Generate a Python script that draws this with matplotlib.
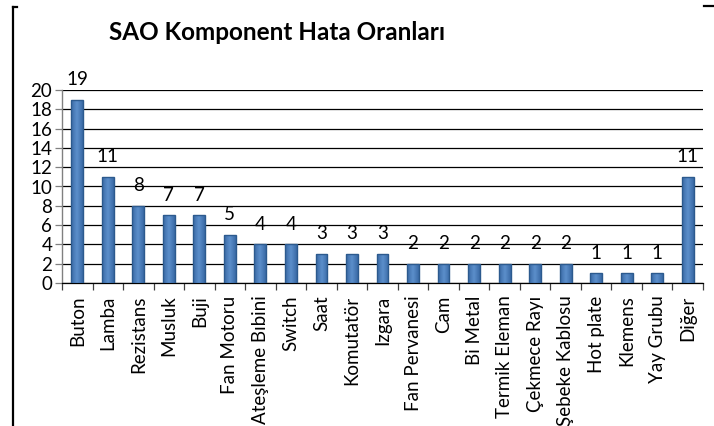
import matplotlib
matplotlib.use("Agg")
import matplotlib.pyplot as plt
from matplotlib.lines import Line2D
from matplotlib.colors import LinearSegmentedColormap
import numpy as np

categories = ["Buton", "Lamba", "Rezistans", "Musluk", "Buji", "Fan Motoru",
              "Ateşleme Bıbini", "Switch", "Saat", "Komutatör", "Izgara",
              "Fan Pervanesi", "Cam", "Bi Metal", "Termik Eleman", "Çekmece Rayı",
              "Şebeke Kablosu", "Hot plate", "Klemens", "Yay Grubu", "Diğer"]
values = [19, 11, 8, 7, 7, 5, 4, 4, 3, 3, 3, 2, 2, 2, 2, 2, 2, 1, 1, 1, 11]
yticks = list(range(0, 21, 2))
title = "SAO Komponent Hata Oranları"

plt.rcParams["font.family"] = ["Lato", "DejaVu Sans"]
FS = 13.5

fig = plt.figure(figsize=(7.14, 4.26), dpi=100)
ax = fig.add_axes([62 / 714, 1 - 283 / 426, (703 - 62) / 714, (283 - 90) / 426])

x = np.arange(len(categories))
bars = ax.bar(x, values, width=0.39, color="#4F81BD", edgecolor="#2C5A8E",
              linewidth=1.0, zorder=3)

# horizontal shading inside each bar: darker at the sides, lighter in the middle
shade = LinearSegmentedColormap.from_list("barshade", ["#3A6AA6", "#5C8FCB", "#3A6AA6"])
grad = np.linspace(0, 1, 64).reshape(1, -1)
for b in bars:
    x0, w, h = b.get_x(), b.get_width(), b.get_height()
    im = ax.imshow(grad, cmap=shade, extent=(x0, x0 + w, 0, h), aspect="auto",
                   interpolation="bilinear", zorder=3.5)
    im.set_clip_path(b)
    b.set_facecolor("none")
    b.set_zorder(4)

for xi, v in zip(x, values):
    ax.annotate(str(v), (xi, v), xytext=(0, 14.5), textcoords="offset points",
                ha="center", va="center", fontsize=FS, color="black")

ax.set_xlim(-0.5, len(categories) - 0.5)
ax.set_ylim(0, 20)
ax.set_yticks(yticks)
ax.set_yticklabels([str(t) for t in yticks], fontsize=FS)
ax.yaxis.grid(True, color="black", linewidth=0.9, zorder=0)
ax.tick_params(axis="y", length=5, width=0.9, pad=2, direction="out", color="#808080")

ax.set_xticks(x)
ax.set_xticklabels(categories, rotation=90, fontsize=FS)
ax.tick_params(axis="x", which="major", length=0, pad=9)
ax.set_xticks(np.arange(-0.5, len(categories)), minor=True)
ax.tick_params(axis="x", which="minor", length=5, width=0.9, direction="out", color="#404040")

for side in ("top", "right"):
    ax.spines[side].set_visible(False)
ax.spines["left"].set_linewidth(1.0)
ax.spines["left"].set_color("#808080")
ax.spines["bottom"].set_linewidth(0.9)
ax.spines["bottom"].set_color("black")

fig.text(277 / 714, 1 - 33 / 426, title, ha="center", va="center",
         fontsize=17.5, fontweight="bold")

# chart frame edges
fig.add_artist(Line2D([13 / 714, 13 / 714], [0, 1 - 7 / 426], color="black", linewidth=1.6))
fig.add_artist(Line2D([13 / 714, 17 / 714], [1 - 7 / 426, 1 - 7 / 426], color="black", linewidth=1.6))
fig.add_artist(Line2D([704 / 714, 1], [1 - 6 / 426, 1 - 6 / 426], color="black", linewidth=1.6))

fig.savefig("out.png", dpi=100)
